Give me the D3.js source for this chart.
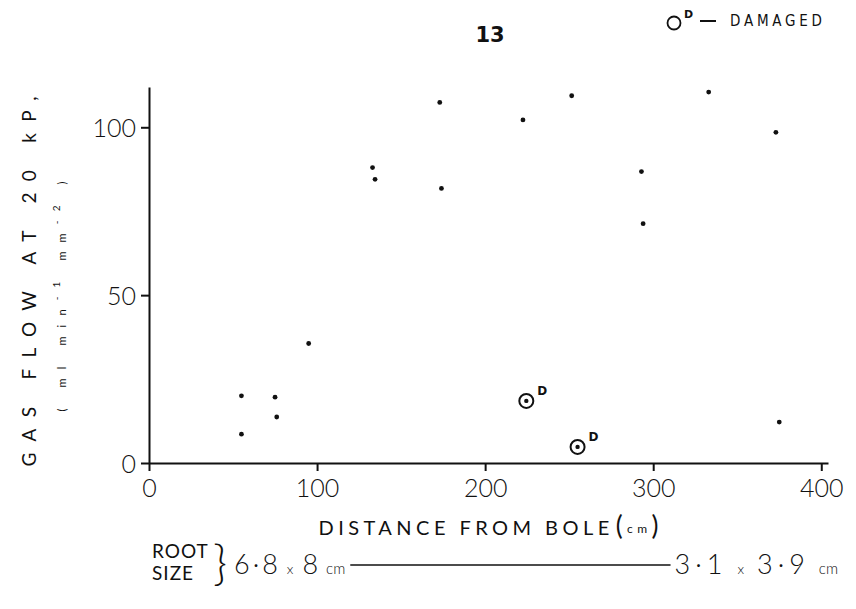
<!DOCTYPE html>
<html><head><meta charset="utf-8">
<script src="https://cdn.jsdelivr.net/npm/d3@7"></script>
<style>
body{margin:0;background:#fff;}
svg{display:block;}
text{fill:#111;}
</style></head>
<body><svg id="c" width="856" height="609"></svg>
<script>
// ---- data ----
const distance = [55, 55, 75, 76, 95, 133, 134.5, 173, 174, 222.5, 251.5, 293, 294, 333, 373, 375];
const flow     = [20, 8.6, 19.6, 13.7, 35.6, 88, 84.5, 107.4, 81.8, 102.2, 109.4, 86.8, 71.3, 110.5, 98.5, 12.2];
const damagedDistance = [224.5, 255];
const damagedFlow     = [18.5, 4.8];
const xTicks = [0, 100, 200, 300, 400];
const yTicks = [0, 50, 100];
const pageNumber = "13";
const legendLabel = "DAMAGED";
const rootStart = ["6·8", "8"];
const rootEnd = ["3·1", "3·9"];

const svg = d3.select("#c");
const FONT = "Lato, 'Open Sans', 'DejaVu Sans', sans-serif";
const x = d3.scaleLinear().domain([0, 404]).range([149, 828]);
const y = d3.scaleLinear().domain([0, 112]).range([463, 87]);

// axes
const xAxis = d3.axisBottom(x).tickValues(xTicks).tickSize(8).tickPadding(8).tickSizeOuter(0);
const yAxis = d3.axisLeft(y).tickValues(yTicks).tickSize(8).tickPadding(5).tickSizeOuter(0);
const gx = svg.append("g").attr("transform", `translate(0,${y(0)})`).call(xAxis);
const gy = svg.append("g").attr("transform", `translate(${x(0)},0)`).call(yAxis);
[gx, gy].forEach(g => {
  g.selectAll("path,line").attr("stroke", "#111").attr("stroke-width", 2);
  g.selectAll("text").attr("font-family", FONT).attr("font-weight", 300)
    .attr("font-size", 25).attr("fill", "#111");
});
gy.selectAll("text").attr("dy", "0.36em");

// points
svg.append("g").selectAll("circle").data(distance).join("circle")
  .attr("cx", (d) => x(d)).attr("cy", (d, i) => y(flow[i])).attr("r", 2.4).attr("fill", "#111");

// damaged points
const dg = svg.append("g").selectAll("g").data(damagedDistance).join("g")
  .attr("transform", (d, i) => `translate(${x(d)},${y(damagedFlow[i])})`);
dg.append("circle").attr("r", 7).attr("fill", "none").attr("stroke", "#111").attr("stroke-width", 2);
dg.append("circle").attr("r", 2.2).attr("fill", "#111");
dg.append("text").attr("x", 11).attr("y", -6).text("D")
  .attr("font-family", "'DejaVu Sans', sans-serif").attr("font-weight", "bold").attr("font-size", 12);

// page number
svg.append("text").attr("x", 490).attr("y", 42).attr("text-anchor", "middle")
  .attr("font-family", "'DejaVu Sans', sans-serif").attr("font-weight", "bold").attr("font-size", 21).text(pageNumber);

// legend
const lg = svg.append("g").attr("transform", "translate(674,23)");
lg.append("circle").attr("r", 6.5).attr("fill", "none").attr("stroke", "#111").attr("stroke-width", 1.8);
lg.append("text").attr("x", 10).attr("y", -5).text("D")
  .attr("font-family", "'DejaVu Sans', sans-serif").attr("font-weight", "bold").attr("font-size", 11);
lg.append("line").attr("x1", 26).attr("x2", 42).attr("y1", -2).attr("y2", -2).attr("stroke", "#111").attr("stroke-width", 2);
lg.append("text").attr("x", 56).attr("y", 3).text(legendLabel)
  .attr("font-family", "'DejaVu Sans Condensed', 'DejaVu Sans', sans-serif").attr("font-size", 15)
  .attr("textLength", 92).attr("lengthAdjust", "spacing");

// y title
svg.append("text").attr("transform", `translate(36,${(95 + 468) / 2}) rotate(-90)`)
  .attr("text-anchor", "middle").attr("font-family", FONT).attr("font-size", 19)
  .attr("textLength", 370).attr("lengthAdjust", "spacing").text("GAS  FLOW  AT  20 kP,");
const ys = svg.append("text").attr("transform", `translate(66,${(180 + 413) / 2}) rotate(-90)`)
  .attr("text-anchor", "middle").attr("font-family", FONT).attr("font-size", 11);
ys.append("tspan").text("( ml   min");
ys.append("tspan").attr("baseline-shift", "super").attr("font-size", 10).text("-1");
ys.append("tspan").text("   mm");
ys.append("tspan").attr("baseline-shift", "super").attr("font-size", 10).text("-2");
ys.append("tspan").text("  )");
ys.attr("textLength", 230).attr("lengthAdjust", "spacing");

// x title
const xt = svg.append("text").attr("x", (x(0) + x(404)) / 2).attr("y", 535).attr("text-anchor", "middle")
  .attr("font-family", FONT).attr("font-size", 20);
xt.append("tspan").text("DISTANCE  FROM  BOLE");
xt.append("tspan").attr("font-size", 26).attr("dx", 2).text("(");
xt.append("tspan").attr("font-size", 12).attr("dy", -2).text("cm");
xt.append("tspan").attr("font-size", 26).attr("dy", 2).text(")");
xt.attr("textLength", 340).attr("lengthAdjust", "spacing");

// root size row
svg.append("text").attr("x", 152).attr("y", 558).attr("font-family", FONT).attr("font-size", 19)
  .attr("letter-spacing", 1).text("ROOT");
svg.append("text").attr("x", 152).attr("y", 580).attr("font-family", FONT).attr("font-size", 19)
  .attr("letter-spacing", 1).text("SIZE");
svg.append("text").attr("x", 213).attr("y", 580).attr("font-family", FONT).attr("font-weight", 300)
  .attr("font-size", 48).text("}");
function rootLabel(xPos, anchor, vals, ls, gap) {
  const t = svg.append("text").attr("x", xPos).attr("y", 574).attr("text-anchor", anchor)
    .attr("font-family", FONT).attr("font-size", 27).attr("font-weight", 300);
  t.append("tspan").attr("letter-spacing", ls).text(vals[0]);
  t.append("tspan").attr("font-size", 14).attr("dx", gap - 3).text("x");
  t.append("tspan").attr("dx", gap).attr("letter-spacing", ls).text(vals[1]);
  t.append("tspan").attr("font-size", 15).attr("dx", gap - 4).text("cm");
  return t;
}
const r1 = rootLabel(234, "start", rootStart, 3, 9);
const r2 = rootLabel(838, "end", rootEnd, 5, 13);
const b1 = r1.node().getBBox();
const b2 = r2.node().getBBox();
svg.append("line").attr("x1", b1.x + b1.width + 5).attr("x2", b2.x - 4).attr("y1", 565).attr("y2", 565)
  .attr("stroke", "#111").attr("stroke-width", 1.5);
</script></body></html>
